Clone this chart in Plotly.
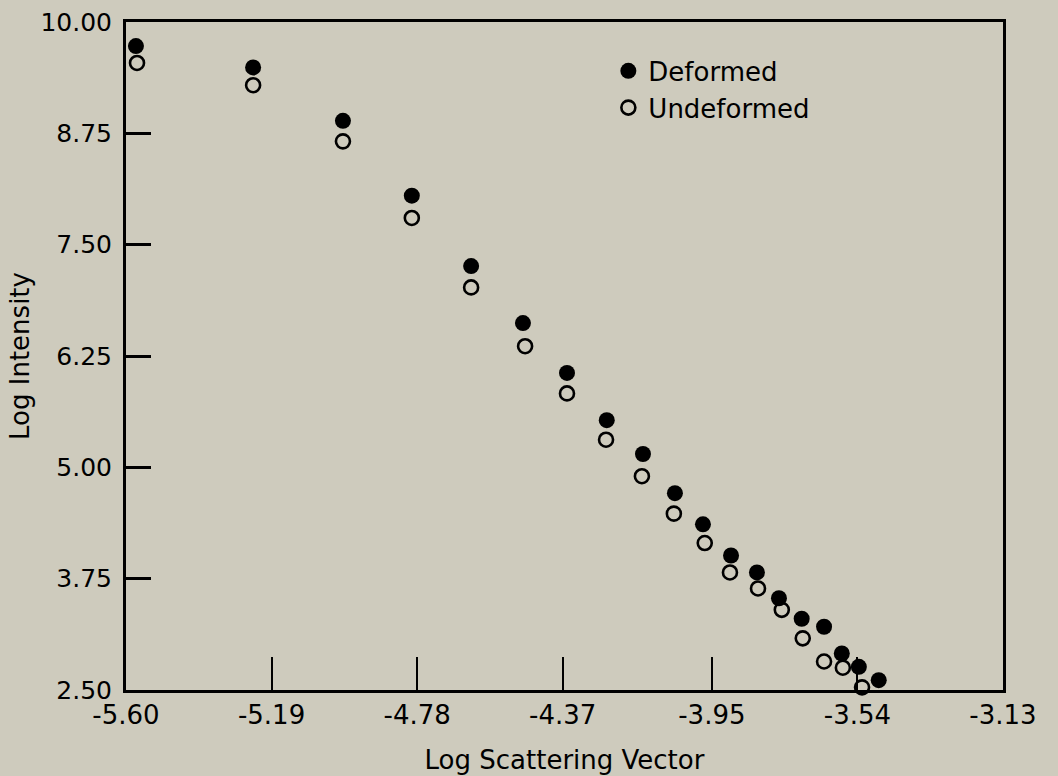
import plotly.graph_objects as go

# Deformed (filled circles)
def_x = [-5.572, -5.242, -4.989, -4.795, -4.628, -4.482, -4.358, -4.246, -4.144, -4.054,
         -3.975, -3.896, -3.823, -3.761, -3.697, -3.634, -3.584, -3.536, -3.480]
def_y = [9.73, 9.49, 8.89, 8.05, 7.26, 6.62, 6.06, 5.53, 5.15, 4.71,
         4.36, 4.01, 3.82, 3.53, 3.30, 3.21, 2.91, 2.76, 2.61]

# Undeformed (open circles)
und_x = [-5.569, -5.242, -4.989, -4.795, -4.628, -4.476, -4.358, -4.248, -4.147, -4.057,
         -3.970, -3.899, -3.820, -3.753, -3.694, -3.634, -3.581, -3.527]
und_y = [9.54, 9.29, 8.66, 7.80, 7.02, 6.36, 5.83, 5.31, 4.90, 4.48,
         4.15, 3.82, 3.64, 3.40, 3.08, 2.82, 2.75, 2.53]

x_ticks = [-5.60, -5.19, -4.78, -4.37, -3.95, -3.54, -3.13]
x_labels = ["-5.60", "-5.19", "-4.78", "-4.37", "-3.95", "-3.54", "-3.13"]
y_ticks = [2.50, 3.75, 5.00, 6.25, 7.50, 8.75, 10.00]
y_labels = ["2.50", "3.75", "5.00", "6.25", "7.50", "8.75", "10.00"]

BG = "#cecbbd"
FONT = "DejaVu Sans, sans-serif"

fig = go.Figure()
fig.add_trace(go.Scatter(
    x=def_x, y=def_y, mode="markers", name="Deformed",
    marker=dict(symbol="circle", size=16, color="black", line=dict(width=0)),
    cliponaxis=False))
fig.add_trace(go.Scatter(
    x=und_x, y=und_y, mode="markers", name="Undeformed",
    marker=dict(symbol="circle-open", size=14, color="black", line=dict(width=2.6)),
    cliponaxis=False))

fig.update_layout(
    width=1058, height=776,
    paper_bgcolor=BG, plot_bgcolor=BG,
    margin=dict(l=126, r=55, t=22, b=86),
    font=dict(family=FONT, size=22, color="black"),
    showlegend=True,
    legend=dict(x=0.55, y=0.962, xanchor="left", yanchor="top",
                bgcolor="rgba(0,0,0,0)", borderwidth=0,
                font=dict(size=26, family=FONT), itemsizing="trace",
                tracegroupgap=0),
    xaxis=dict(range=[-5.60, -3.13], tickvals=x_ticks, ticktext=x_labels,
               automargin=False,
               showgrid=False, zeroline=False,
               showline=True, linecolor="black", linewidth=3, mirror=True,
               ticks="inside", ticklen=33, tickwidth=2, tickcolor="black",
               tickfont=dict(size=26), ticklabelstandoff=0,
               title=dict(text="Log Scattering Vector", font=dict(size=26), standoff=22)),
    yaxis=dict(range=[2.50, 10.00], tickvals=y_ticks, ticktext=y_labels,
               automargin=False,
               showgrid=False, zeroline=False,
               showline=True, linecolor="black", linewidth=3, mirror=True,
               ticks="inside", ticklen=25, tickwidth=3, tickcolor="black",
               tickfont=dict(size=25), ticklabelstandoff=6,
               title=dict(text="Log Intensity", font=dict(size=26), standoff=4)),
)

fig.write_html("out.html")
